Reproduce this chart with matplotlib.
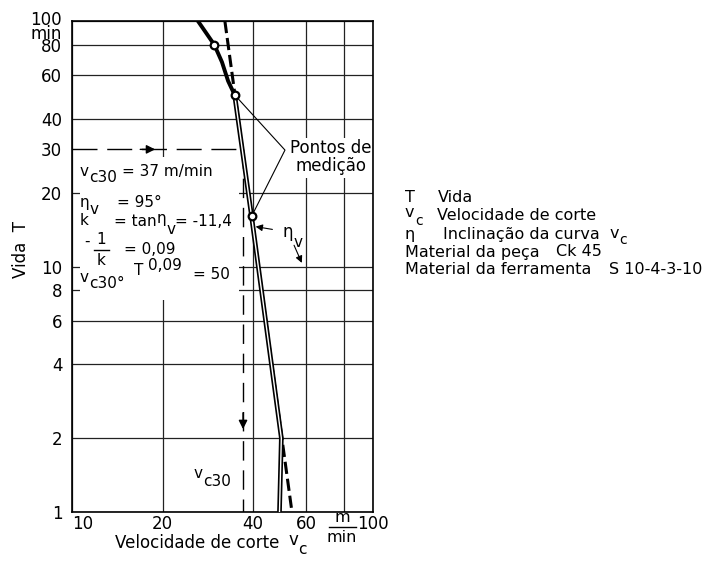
import matplotlib
matplotlib.use("Agg")
import matplotlib.pyplot as plt
from matplotlib.patches import Rectangle
from matplotlib.lines import Line2D
from matplotlib.ticker import NullLocator

plt.rcParams['font.family'] = ['DejaVu Sans']

# measured tool life curve (v_c in m/min, T in min)
curve_v = [26.2, 29.7, 31.5, 33.0, 34.7]
curve_T = [100, 80, 68, 57, 50]
straight_v = [34.7, 39.5, 49.6, 48.9]
straight_T = [50, 16, 2, 1]
points_v = [29.7, 34.7, 39.5]
points_T = [80, 50, 16]

# Taylor straight line (dashed)
taylor_v = [32.2, 53.8]
taylor_T = [100, 1]

vc30 = 37
T30 = 30

grid_x = [10, 20, 40, 60, 80, 100]
grid_y = [1, 2, 4, 6, 8, 10, 20, 40, 60, 80, 100]
xticks = [10, 20, 40, 60, 100]
yticks = [1, 2, 4, 6, 8, 10, 20, 30, 40, 60, 80]

W, H = 711, 562
fig = plt.figure(figsize=(W/100, H/100), dpi=100)
ax = fig.add_axes([72/W, 1-512/H, 301/W, 491/H])
ax.set_xscale('log')
ax.set_yscale('log')
ax.set_xlim(10, 100)
ax.set_ylim(1, 100)
renderer = fig.canvas.get_renderer()


def label(x, y, s, size=12, ha='left', va='center', **kw):
    # text placed in pixel coordinates of the picture
    return fig.text(x/W, 1-y/H, s, fontsize=size, ha=ha, va=va, **kw)


def after(prev, gap, y, s, size=12):
    # text that starts gap pixels after the end of prev
    x1 = prev.get_window_extent(renderer=renderer).x1
    return label(x1 + gap, y, s, size=size)


def hbar(x0, x1, y, lw=1.0):
    fig.add_artist(Line2D([x0/W, x1/W], [1-y/H, 1-y/H], color='black', lw=lw))


for v in grid_x:
    ax.axvline(v, color='#222222', lw=0.9, zorder=1)
for t in grid_y:
    ax.axhline(t, color='#222222', lw=0.9, zorder=1)

ax.set_xticks(xticks, [str(v) for v in xticks])
ax.set_yticks(yticks, [str(t) for t in yticks])
ax.xaxis.set_minor_locator(NullLocator())
ax.yaxis.set_minor_locator(NullLocator())
ax.tick_params(axis='both', length=0, labelsize=12)
ax.tick_params(axis='x', pad=2)
ax.tick_params(axis='y', pad=7)
ax.get_xticklabels()[0].set_ha('left')
for s in ax.spines.values():
    s.set_linewidth(1.2)

# white areas behind the formulas and the "Pontos de medição" text
ax.add_patch(Rectangle((10.6, 7.3), 36.0-10.6, 27.9-7.3, facecolor='white',
                       edgecolor='none', zorder=2))
ax.add_patch(Rectangle((56.5, 23.0), 99.5-56.5, 33.4-23.0, facecolor='white',
                       edgecolor='none', zorder=2))

# v_c30 construction lines
ax.plot([10, vc30], [T30, T30], color='black', lw=1, dashes=(18, 7), zorder=3)
ax.plot([vc30, vc30], [T30, 1], color='black', lw=1, dashes=(14, 7), zorder=3)
ax.annotate('', xy=(19.3, T30), xytext=(16.5, T30),
            arrowprops=dict(arrowstyle='-|>', color='black', lw=1, mutation_scale=13), zorder=4)
ax.annotate('', xy=(vc30, 2.12), xytext=(vc30, 2.6),
            arrowprops=dict(arrowstyle='-|>', color='black', lw=1, mutation_scale=13), zorder=4)

# Taylor line, dashed
ax.plot(taylor_v, taylor_T, color='black', lw=2.2, dashes=(4, 1.6), zorder=3)

# measured curve
ax.plot(curve_v, curve_T, color='black', lw=2.8, solid_capstyle='round', zorder=4)
ax.plot(straight_v, straight_T, color='black', lw=3.4, zorder=4)
ax.plot(straight_v, straight_T, color='white', lw=1.0, zorder=4)
ax.plot(points_v, points_T, 'o', ms=5.5, mfc='white', mec='black', mew=1.6, zorder=5)

# measurement points annotation
ax.plot([points_v[1], 51.0, points_v[2]], [points_T[1], 29.8, points_T[2]],
        color='black', lw=0.8, zorder=3)
label(331, 157, 'Pontos de\nmedição', ha='center', linespacing=1.0)

# eta_v arrows
ax.annotate('', xy=(39.9, 14.6), xytext=(47.3, 14.1),
            arrowprops=dict(arrowstyle='-|>', color='black', lw=0.8, mutation_scale=10), zorder=5)
ax.annotate('', xy=(58.5, 10.1), xytext=(54.2, 12.5),
            arrowprops=dict(arrowstyle='-|>', color='black', lw=0.8, mutation_scale=10), zorder=5)
eta = label(283, 232, 'η')
after(eta, 0, 242, 'v', size=11)

# formulas inside the white box
fs = 11
t = label(80, 171, 'v', size=fs)
after(t, 0, 178, 'c30', size=fs)
label(122, 171, '= 37 m/min', size=fs)
t = label(80, 202, 'η', size=fs)
after(t, 0, 210, 'v', size=fs)
label(117, 202, '= 95°', size=fs)
label(80, 220, 'k', size=fs)
t = label(114, 221, '= tan', size=fs)
t = after(t, 0, 219, 'η', size=fs)
t = after(t, 0, 230, 'v', size=fs)
after(t, 0, 221, '= -11,4', size=fs)
label(84, 241, '-', size=fs)
label(101, 240, '1', size=fs, ha='center')
hbar(94, 109, 250)
label(101, 260, 'k', size=fs, ha='center')
label(124, 249, '= 0,09', size=fs)
t = label(80, 277, 'v', size=fs)
after(t, 0, 283, 'c30°', size=fs)
label(134, 271, 'T', size=fs)
label(148, 266, '0,09', size=fs)
label(193, 275, '= 50', size=fs)

# v_c30 label at the bottom
t = label(194, 473, 'v', size=fs)
after(t, 0, 481, 'c30', size=fs)

# units on axes
label(62, 11, '100\nmin', ha='right', va='top', linespacing=0.72)
label(342, 517.5, 'm', ha='center', size=11.5)
hbar(329, 356, 527)
label(342, 537, 'min', ha='center', size=11.5)

# axis titles
label(21, 250, 'Vida  T', ha='center', rotation=90)
xl = label(115, 543, 'Velocidade de corte', ha='left')
t = after(xl, 9, 540, 'v')
after(t, 0, 550, 'c', size=11)

# legend of symbols
lf = 11.5
label(405, 198, 'T', size=lf)
label(438, 198, 'Vida', size=lf)
t = label(405, 213, 'v', size=lf)
after(t, 1, 221, 'c', size=10)
label(437, 216, 'Velocidade de corte', size=lf)
label(405, 234.5, 'η', size=lf)
incl = label(443, 234.5, 'Inclinação da curva', size=lf)
t = after(incl, 10, 233, 'v', size=lf)
after(t, 0, 240, 'c', size=10)
peca = label(405, 252, 'Material da peça', size=lf)
after(peca, 16, 252, 'Ck 45', size=lf)
ferr = label(405, 270, 'Material da ferramenta', size=lf)
after(ferr, 18, 270, 'S 10-4-3-10', size=lf)

fig.savefig('out.png', dpi=100)
